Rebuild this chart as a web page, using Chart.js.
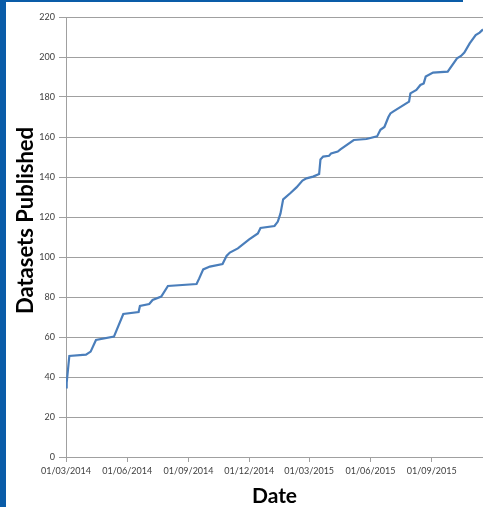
<!DOCTYPE html>
<html>
<head>
<meta charset="utf-8">
<script src="https://cdn.jsdelivr.net/npm/chart.js@4/dist/chart.umd.min.js"></script>
<style>
  html, body { margin: 0; padding: 0; background: #fff; }
  #wrap { width: 483px; height: 507px; position: relative; }
</style>
</head>
<body>
<div id="wrap"><canvas id="c" width="483" height="507"></canvas></div>
<script>
const startDate = '2014-03-01';
const endDate = '2015-11-17';
const dates = [
  '2014-03-01','2014-03-02','2014-03-06','2014-03-31','2014-04-07','2014-04-15','2014-05-12','2014-05-26',
  '2014-06-18','2014-06-20','2014-07-04','2014-07-09','2014-07-22','2014-08-01','2014-09-13','2014-09-17',
  '2014-09-23','2014-10-03','2014-10-22','2014-10-28','2014-11-02','2014-11-14','2014-12-01','2014-12-14',
  '2014-12-18','2015-01-08','2015-01-13','2015-01-17','2015-01-21','2015-02-01','2015-02-10','2015-02-19',
  '2015-02-25','2015-03-07','2015-03-16','2015-03-18','2015-03-22','2015-03-31','2015-04-03','2015-04-13',
  '2015-04-17','2015-05-07','2015-05-26','2015-06-11','2015-06-16','2015-06-22','2015-06-28','2015-07-01',
  '2015-07-05','2015-07-29','2015-07-31','2015-08-09','2015-08-15','2015-08-20','2015-08-23','2015-09-03',
  '2015-09-25','2015-10-09','2015-10-15','2015-10-20','2015-10-28','2015-11-06','2015-11-12','2015-11-17'
];
const published = [
  34.8, 37, 50.5, 51.2, 52.7, 58.5, 60.2, 71.5,
  72.5, 75.5, 76.5, 78.5, 80.2, 85.5, 86.5, 89.3,
  93.8, 95.2, 96.5, 100.5, 102.2, 104.3, 108.8, 111.8,
  114.5, 115.5, 117.7, 121.8, 128.8, 132, 134.8, 138.2,
  139.3, 140.2, 141.5, 148.8, 150.2, 150.6, 151.8, 152.7,
  153.8, 158.5, 159, 160.3, 163.6, 165, 170, 171.8,
  172.7, 177.7, 181.8, 183.5, 186, 186.8, 190.2, 192.2,
  192.7, 199.3, 200.5, 202.2, 206.8, 211, 212.2, 213.8
];
const xTickDates = ['2014-03-01','2014-06-01','2014-09-01','2014-12-01','2015-03-01','2015-06-01','2015-09-01'];
const xTickLabels = ['01/03/2014','01/06/2014','01/09/2014','01/12/2014','01/03/2015','01/06/2015','01/09/2015'];
const yTicks = [0,20,40,60,80,100,120,140,160,180,200,220];

const DAY = 86400000;
function utc(s) { const [y, m, d] = s.split('-').map(Number); return Date.UTC(y, m - 1, d); }
function dayNum(s) { return (utc(s) - utc(startDate)) / DAY; }
const points = dates.map((d, i) => ({ x: dayNum(d), y: published[i] }));
const xTickValues = xTickDates.map(dayNum);

const decor = {
  id: 'decor',
  afterDraw(chart) {
    const ctx = chart.ctx;
    ctx.save();
    ctx.fillStyle = '#0a5ca8';
    ctx.fillRect(0, 0, 6, 507);
    ctx.fillRect(6, 0, 457, 2);
    ctx.restore();
  }
};

new Chart(document.getElementById('c'), {
  type: 'line',
  data: {
    datasets: [{
      data: points,
      borderColor: '#4a7ebb',
      borderWidth: 2.2,
      pointRadius: 0,
      tension: 0,
      fill: false
    }]
  },
  options: {
    responsive: false,
    animation: false,
    layout: { padding: { left: 0, right: 0, top: 17, bottom: 0 } },
    plugins: { legend: { display: false }, tooltip: { enabled: false } },
    scales: {
      x: {
        type: 'linear',
        min: 0,
        max: dayNum(endDate),
        afterBuildTicks(scale) { scale.ticks = xTickValues.map(v => ({ value: v })); },
        afterFit(scale) { scale.height = 50; },
        grid: { drawOnChartArea: false, drawTicks: true, tickLength: 5, color: '#a0a0a0' },
        border: { color: '#a0a0a0', width: 1 },
        ticks: {
          autoSkip: false, maxRotation: 0, padding: 4, color: '#404040',
          font: { family: 'Lato', size: 9 },
          callback(v) { const i = xTickValues.indexOf(v); return i >= 0 ? xTickLabels[i] : ''; }
        },
        title: {
          display: true, text: 'Date', color: '#000',
          font: { family: 'Lato', size: 21, weight: 'bold', lineHeight: 1 },
          padding: 0
        }
      },
      y: {
        min: 0,
        max: 220,
        afterBuildTicks(scale) { scale.ticks = yTicks.map(v => ({ value: v })); },
        afterFit(scale) { scale.width = 66; },
        grid: { color: '#a0a0a0', tickLength: 7 },
        border: { color: '#a0a0a0', width: 1 },
        ticks: { padding: 4, color: '#404040', font: { family: 'Lato', size: 9 } },
        title: {
          display: true, text: '\u2002\u2002\u2002Datasets Published', color: '#000',
          font: { family: 'Lato', size: 22, weight: 'bold', lineHeight: 1 },
          padding: { top: 15, bottom: 0 }
        }
      }
    }
  },
  plugins: [decor]
});
</script>
</body>
</html>
